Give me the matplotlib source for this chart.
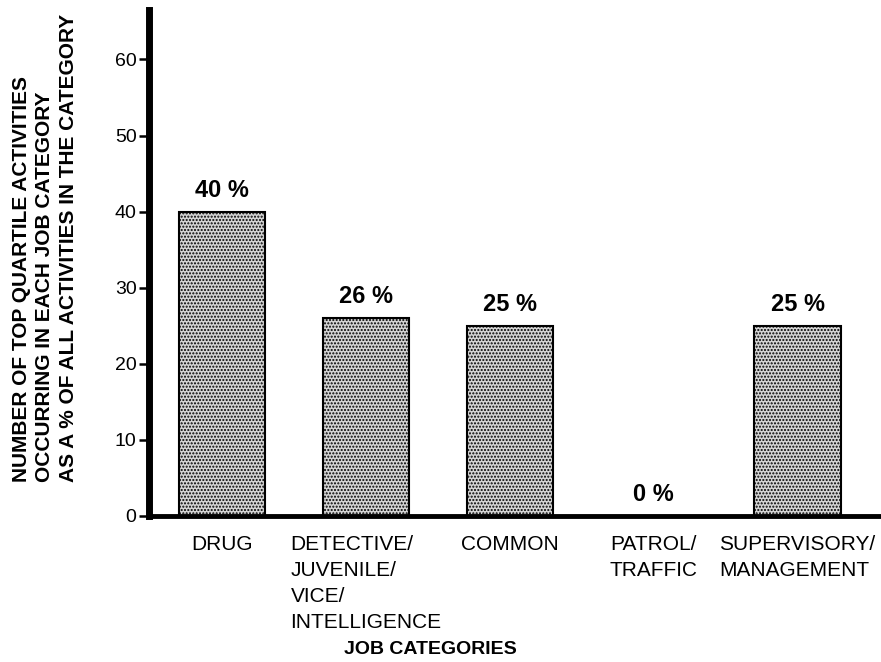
import matplotlib
matplotlib.use("Agg")
import matplotlib.pyplot as plt
import numpy as np

plt.rcParams['font.family'] = ['Liberation Sans', 'DejaVu Sans']
plt.rcParams['hatch.linewidth'] = 1.0

categories = ["DRUG", "DETECTIVE/\nJUVENILE/\nVICE/\nINTELLIGENCE", "COMMON",
              "PATROL/\nTRAFFIC", "SUPERVISORY/\nMANAGEMENT"]
values = [40, 26, 25, 0, 25]
value_labels = ["40 %", "26 %", "25 %", "0 %", "25 %"]
y_ticks = [0, 10, 20, 30, 40, 50, 60]
y_label = ("NUMBER OF TOP QUARTILE ACTIVITIES\n"
           "OCCURRING IN EACH JOB CATEGORY\n"
           "AS A % OF ALL ACTIVITIES IN THE CATEGORY")
x_label = "JOB CATEGORIES"

fig = plt.figure(figsize=(8.81, 6.62), dpi=100)
ax = fig.add_axes([149/881, 1-516/662, 1-149/881, (516-10)/662])

x = np.arange(len(categories))
ax.bar(x, values, width=0.6, facecolor='#d4d4d4', edgecolor='black',
       linewidth=1.5, hatch='.....', zorder=2)

for xi, v, lab in zip(x, values, value_labels):
    ax.text(xi, v + 1.3, lab, ha='center', va='bottom', fontsize=17,
            fontweight='bold')

ax.set_xlim(-0.51, 4.58)
ax.set_ylim(0, 66.5)
ax.set_yticks(y_ticks)
ax.set_yticklabels([str(t) for t in y_ticks], fontsize=14)
ax.set_xticks(x)
ax.set_xticklabels(categories, fontsize=15, multialignment='left',
                   linespacing=1.45)
ax.tick_params(axis='x', length=0, pad=14)
ax.tick_params(axis='y', direction='out', length=7, width=1.8, pad=2)

for s in ['top', 'right']:
    ax.spines[s].set_visible(False)
ax.spines['left'].set_linewidth(5)
ax.spines['bottom'].set_linewidth(3.5)

fig.text(430/881, 1-649/662, x_label, ha='center', va='center',
         fontsize=14, fontweight='bold')
fig.text(45/881, 1-482/662, y_label, rotation=90, ha='center', va='bottom',
         multialignment='left', fontsize=15, fontweight='bold',
         linespacing=1.3)

fig.savefig("out.png", dpi=100)
